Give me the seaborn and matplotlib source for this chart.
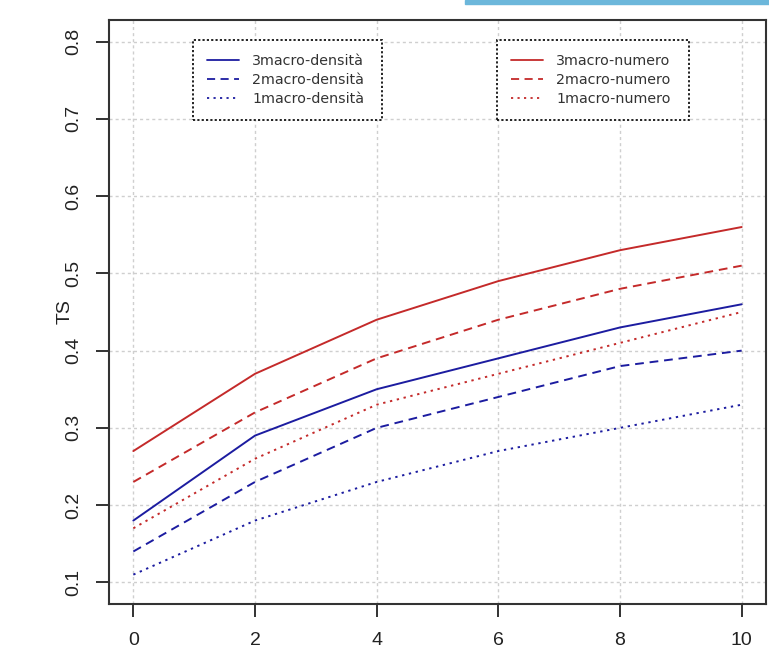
import numpy as np
import pandas as pd
import matplotlib
matplotlib.use("Agg")
import matplotlib.pyplot as plt
from matplotlib.lines import Line2D
from matplotlib.patches import Rectangle
import seaborn as sns

# Values of TS at each step
x_vals = [0, 2, 4, 6, 8, 10]
numero_3 = [0.27, 0.37, 0.44, 0.49, 0.53, 0.56]
numero_2 = [0.23, 0.32, 0.39, 0.44, 0.48, 0.51]
numero_1 = [0.17, 0.26, 0.33, 0.37, 0.41, 0.45]
densita_3 = [0.18, 0.29, 0.35, 0.39, 0.43, 0.46]
densita_2 = [0.14, 0.23, 0.30, 0.34, 0.38, 0.40]
densita_1 = [0.11, 0.18, 0.23, 0.27, 0.30, 0.33]

series_names = ["3macro-densità", "2macro-densità", "1macro-densità",
                "3macro-numero", "2macro-numero", "1macro-numero"]
series_vals = [densita_3, densita_2, densita_1, numero_3, numero_2, numero_1]

x_ticks = [0, 2, 4, 6, 8, 10]
y_ticks = [0.1, 0.2, 0.3, 0.4, 0.5, 0.6, 0.7, 0.8]

df = pd.DataFrame({
    "x": np.tile(x_vals, len(series_names)),
    "TS": np.concatenate(series_vals),
    "serie": np.repeat(series_names, len(x_vals)),
})

blue = "#1c1ca0"
red = "#c42a2a"
palette = {
    "3macro-densità": blue, "2macro-densità": blue, "1macro-densità": blue,
    "3macro-numero": red, "2macro-numero": red, "1macro-numero": red,
}
solid, dashed, dotted = "", (4.5, 3.0), (1.2, 2.4)
dash_map = {
    "3macro-densità": solid, "2macro-densità": dashed, "1macro-densità": dotted,
    "3macro-numero": solid, "2macro-numero": dashed, "1macro-numero": dotted,
}

sns.set_style("white")
plt.rcParams["font.family"] = ["Liberation Sans", "DejaVu Sans"]

W, H = 769, 663
fig = plt.figure(figsize=(W / 100, H / 100), dpi=100)
ax = fig.add_axes([109 / W, 1 - 604 / H, (766 - 109) / W, (604 - 20) / H])

sns.lineplot(data=df, x="x", y="TS", hue="serie", style="serie",
             palette=palette, dashes=dash_map, linewidth=1.4,
             legend=False, ax=ax, zorder=3)

ax.set_xlim(-0.4, 10.4)
ax.set_ylim(0.072, 0.828)
ax.set_xticks(x_ticks)
ax.set_yticks(y_ticks)
ax.set_xticklabels([str(v) for v in x_ticks])
ax.set_yticklabels([f"{v:.1f}" for v in y_ticks], rotation=90, va="center")
ax.tick_params(axis="both", direction="out", length=9.5, width=1.3,
               bottom=True, left=True, top=False, right=False,
               colors="#222222", labelsize=14, labelcolor="#222222")
ax.tick_params(axis="x", pad=11)
ax.tick_params(axis="y", pad=10)
ax.set_xlabel("")
ax.set_ylabel("TS", fontsize=14, color="#222222", va="center")
ax.yaxis.set_label_coords(-0.067, 0.5)

ax.grid(True, color="#cfcfcf", linestyle=(0, (2.2, 2.2)), linewidth=1.0, zorder=0)
for sp in ax.spines.values():
    sp.set_color("#333333")
    sp.set_linewidth(1.5)

def make_legend(names, color, x0, x1):
    handles = [Line2D([], [], color=color, lw=1.3, linestyle=ls)
               for ls in ["-", (0, dashed), (0, dotted)]]
    leg = ax.legend(handles, names, loc="upper left",
                    bbox_to_anchor=(x0, 0.966, x1 - x0, 0.0), mode="expand",
                    borderaxespad=0, prop={"family": "DejaVu Sans", "size": 10.3},
                    handlelength=2.2, handletextpad=0.95, labelspacing=0.33,
                    borderpad=1.0, frameon=True, fancybox=False,
                    labelcolor="#333333")
    fr = leg.get_frame()
    fr.set_edgecolor("#111111")
    fr.set_linewidth(1.3)
    fr.set_linestyle((0, (1.2, 1.2)))
    fr.set_facecolor("white")
    fr.set_alpha(1)
    leg.set_zorder(5)
    return leg

ax_w = 766 - 109
leg1 = make_legend(series_names[:3], blue, (193 - 109) / ax_w, (382 - 109) / ax_w)
ax.add_artist(leg1)
make_legend(series_names[3:], red, (497 - 109) / ax_w, (689 - 109) / ax_w)

# thin accent strip along the top edge
fig.patches.append(Rectangle((465 / W, 1 - 4 / H), (W - 465) / W, 4 / H,
                             transform=fig.transFigure, color="#6cb7db",
                             zorder=10))

fig.savefig("out.png", dpi=100)
